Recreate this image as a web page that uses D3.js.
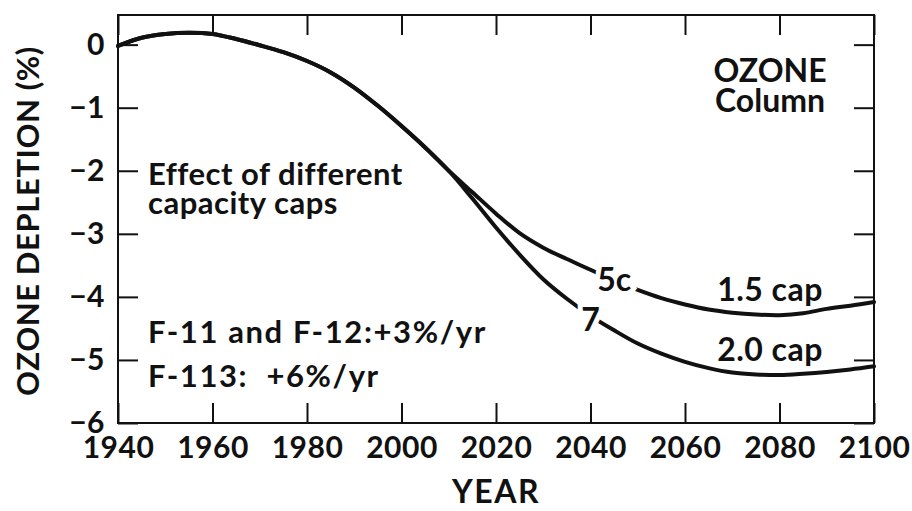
<!DOCTYPE html>
<html>
<head>
<meta charset="utf-8">
<script src="https://cdn.jsdelivr.net/npm/d3@7"></script>
<style>
  body { margin: 0; background: #fff; }
  svg { display: block; }
  text { font-family: Lato, "DejaVu Sans", sans-serif; font-weight: 700; fill: #111; }
</style>
</head>
<body>
<svg id="chart" width="912" height="511"></svg>
<script>
// Model years (5-year steps) and column ozone change (%) for two capacity caps
const years = [1940, 1945, 1950, 1955, 1960, 1965, 1970, 1975, 1980, 1985, 1990, 1995,
               2000, 2005, 2010, 2015, 2020, 2025, 2030, 2035, 2040, 2045, 2050, 2055,
               2060, 2065, 2070, 2075, 2080, 2085, 2090, 2095, 2100];
const cap15 = [-0.02, 0.11, 0.17, 0.19, 0.17, 0.09, -0.01, -0.12, -0.26, -0.44, -0.68, -0.97,
               -1.29, -1.63, -2.00, -2.34, -2.68, -2.99, -3.22, -3.40, -3.57, -3.74, -3.89, -4.02,
               -4.12, -4.20, -4.25, -4.28, -4.29, -4.26, -4.19, -4.14, -4.08];
const cap20 = [-0.02, 0.11, 0.17, 0.19, 0.17, 0.09, -0.01, -0.12, -0.26, -0.44, -0.68, -0.97,
               -1.29, -1.63, -2.00, -2.44, -2.90, -3.33, -3.72, -4.03, -4.30, -4.53, -4.74, -4.90,
               -5.03, -5.13, -5.20, -5.23, -5.24, -5.22, -5.19, -5.15, -5.10];

// Axis ticks and their labels
const xTicks = [1940, 1960, 1980, 2000, 2020, 2040, 2060, 2080, 2100];
const xTickLabels = ["1940", "1960", "1980", "2000", "2020", "2040", "2060", "2080", "2100"];
const yTicks = [0, -1, -2, -3, -4, -5, -6];
const yTickLabels = ["0", "\u22121", "\u22122", "\u22123", "\u22124", "\u22125", "\u22126"];

// Run labels written onto each curve, and the cap names beside them
const seriesNames = ["cap15", "cap20"];
const runLabels = ["5c", "7"];
const runLabelYears = [2045, 2040];
const capLabels = ["1.5 cap", "2.0 cap"];

// Panel title and scenario notes
const titleLines = ["OZONE", "Column"];
const captionLines = ["Effect of different", "capacity caps"];
const scenarioLines = ["F-11 and F-12:+3%/yr", "F-113:  +6%/yr"];

const width = 912, height = 511;
const margin = { top: 15, right: 38, bottom: 88, left: 118 };
const FONT = "Lato, 'DejaVu Sans', sans-serif";

const svg = d3.select("#chart");
const x = d3.scaleLinear().domain([1940, 2100]).range([margin.left, width - margin.right]);
const y = d3.scaleLinear().domain([-6, 0.47]).range([height - margin.bottom, margin.top]);

const series = { cap15, cap20 };

// Inward-pointing ticks on all four sides
const tickLen = 20;
const fmtX = d => xTickLabels[xTicks.indexOf(d)];
const fmtY = d => yTickLabels[yTicks.indexOf(d)];

function styleAxis(g) {
  g.select(".domain").remove();
  g.selectAll(".tick line").attr("stroke", "#111").attr("stroke-width", 2);
  g.selectAll(".tick text")
    .attr("font-family", FONT)
    .attr("font-weight", 700)
    .attr("font-size", 30)
    .attr("letter-spacing", 0.5)
    .attr("fill", "#111");
}

svg.append("g")
  .attr("transform", `translate(0,${y(-6)})`)
  .call(d3.axisBottom(x).tickValues(xTicks).tickFormat(fmtX).tickSizeInner(-tickLen).tickSizeOuter(0).tickPadding(14))
  .call(styleAxis);

svg.append("g")
  .attr("transform", `translate(0,${margin.top})`)
  .call(d3.axisTop(x).tickValues(xTicks).tickFormat("").tickSizeInner(-tickLen).tickSizeOuter(0))
  .call(styleAxis);

svg.append("g")
  .attr("transform", `translate(${x(1940)},0)`)
  .call(d3.axisLeft(y).tickValues(yTicks).tickFormat(fmtY).tickSizeInner(-tickLen).tickSizeOuter(0).tickPadding(13))
  .call(styleAxis);

svg.append("g")
  .attr("transform", `translate(${x(2100)},0)`)
  .call(d3.axisRight(y).tickValues(yTicks).tickFormat("").tickSizeInner(-tickLen).tickSizeOuter(0))
  .call(styleAxis);

// Plot frame
svg.append("rect")
  .attr("x", x(1940)).attr("y", margin.top)
  .attr("width", x(2100) - x(1940)).attr("height", y(-6) - margin.top)
  .attr("fill", "none").attr("stroke", "#111").attr("stroke-width", 2);

// Curves
const line = d3.line()
  .x((d, i) => x(years[i]))
  .y(d => y(d))
  .curve(d3.curveCatmullRom.alpha(0.5));

svg.selectAll("path.series")
  .data(seriesNames)
  .join("path")
  .attr("class", "series")
  .attr("d", k => line(series[k]))
  .attr("fill", "none")
  .attr("stroke", "#111")
  .attr("stroke-width", 4)
  .attr("stroke-linecap", "round");

// Run labels sit on the curve, a white halo breaks the line around them
svg.selectAll("text.run")
  .data(seriesNames)
  .join("text")
  .attr("class", "run")
  .attr("x", (k, i) => x(runLabelYears[i]))
  .attr("y", (k, i) => y(series[k][years.indexOf(runLabelYears[i])]))
  .attr("dy", (k, i) => i === 0 ? "0.34em" : "0.48em")
  .attr("text-anchor", "middle")
  .attr("font-size", 32)
  .attr("stroke", "#fff")
  .attr("stroke-width", 10)
  .attr("paint-order", "stroke")
  .text((k, i) => runLabels[i]);

// Cap names above the flat tails of the curves
svg.selectAll("text.cap")
  .data(seriesNames)
  .join("text")
  .attr("class", "cap")
  .attr("x", x(2078))
  .attr("y", (k, i) => y(series[k][years.indexOf(2080)]) - 14)
  .attr("text-anchor", "middle")
  .attr("font-size", 32)
  .attr("letter-spacing", 0.5)
  .text((k, i) => capLabels[i]);

// Panel title, top right
svg.selectAll("text.title")
  .data(titleLines)
  .join("text")
  .attr("class", "title")
  .attr("x", x(2078))
  .attr("y", (d, i) => 82 + i * 30)
  .attr("text-anchor", "middle")
  .attr("font-size", 32)
  .text(d => d);

// Notes inside the plot, left side
function writeLines(cls, lines, top) {
  svg.selectAll("text." + cls)
    .data(lines)
    .join("text")
    .attr("class", cls)
    .attr("x", x(1940) + 30)
    .attr("y", (d, i) => top + i * 44 * (cls === "scenario" ? 1 : 0.66))
    .attr("font-size", 31)
    .attr("letter-spacing", cls === "scenario" ? 1.6 : 0.5)
    .style("white-space", "pre")
    .text(d => d);
}
writeLines("caption", captionLines, 185);
writeLines("scenario", scenarioLines, 343);

// Axis titles
svg.append("text")
  .attr("transform", `translate(39,${(margin.top + y(-6)) / 2 + 2}) rotate(-90)`)
  .attr("text-anchor", "middle")
  .attr("font-size", 31)
  .attr("letter-spacing", 0.6)
  .text("OZONE DEPLETION (%)");

svg.append("text")
  .attr("x", (x(1940) + x(2100)) / 2)
  .attr("y", 503)
  .attr("text-anchor", "middle")
  .attr("font-size", 32)
  .attr("letter-spacing", 1.5)
  .text("YEAR");
</script>
</body>
</html>
